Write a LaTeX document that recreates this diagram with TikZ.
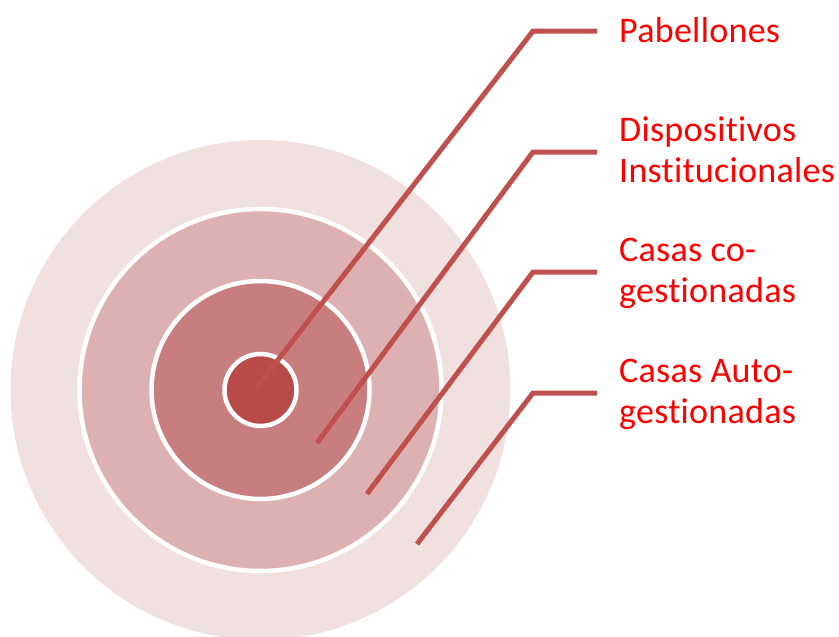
\documentclass[tikz,border=0pt]{standalone}
\usepackage{fontspec}
\setmainfont{Carlito}[Ligatures={NoCommon},LetterSpace=0.8]
\definecolor{ringA}{HTML}{F0E0E0}
\definecolor{ringB}{HTML}{DDB1B1}
\definecolor{ringC}{HTML}{C87E7E}
\definecolor{ringD}{HTML}{B84A48}
\definecolor{leader}{HTML}{C0504D}
\definecolor{labred}{HTML}{FF0000}
\tikzset{
  ring/.style={draw=white, line width=4.5pt},
  leaderline/.style={draw=leader, line width=5pt},
  lab/.style={anchor=base west, inner sep=0pt, text=labred, font=\fontsize{36}{41}\selectfont, align=left}
}
\begin{document}
\begin{tikzpicture}[x=1pt,y=-1pt]
\useasboundingbox (0,0) rectangle (839,637);
\coordinate (c) at (260.5,390);
\fill[ringA] (c) circle (250);
\path[ring, fill=ringB] (c) circle (181);
\path[ring, fill=ringC] (c) circle (109);
\path[ring, fill=ringD] (c) circle (36);
% leader points
\coordinate (p1) at (257,387);
\coordinate (p2) at (317,443);
\coordinate (p3) at (367,494);
\coordinate (p4) at (417,544);
\coordinate (e1) at (533,31);
\coordinate (e2) at (533,152);
\coordinate (e3) at (533,272);
\coordinate (e4) at (533,393);
\coordinate (f1) at (597,31);
\coordinate (f2) at (597,152);
\coordinate (f3) at (597,272);
\coordinate (f4) at (597,393);
\draw[leaderline] (p1) -- (e1) -- (f1);
\draw[leaderline] (p2) -- (e2) -- (f2);
\draw[leaderline] (p3) -- (e3) -- (f3);
\draw[leaderline] (p4) -- (e4) -- (f4);
\node[lab] (l1) at (619,42) {Pabellones};
\node[lab] (l2) at (619,182) {Dispositivos\\Institucionales};
\node[lab] (l3) at (619,302) {Casas co-\\gestionadas};
\node[lab] (l4) at (619,423) {Casas Auto-\\gestionadas};
\end{tikzpicture}
\end{document}
